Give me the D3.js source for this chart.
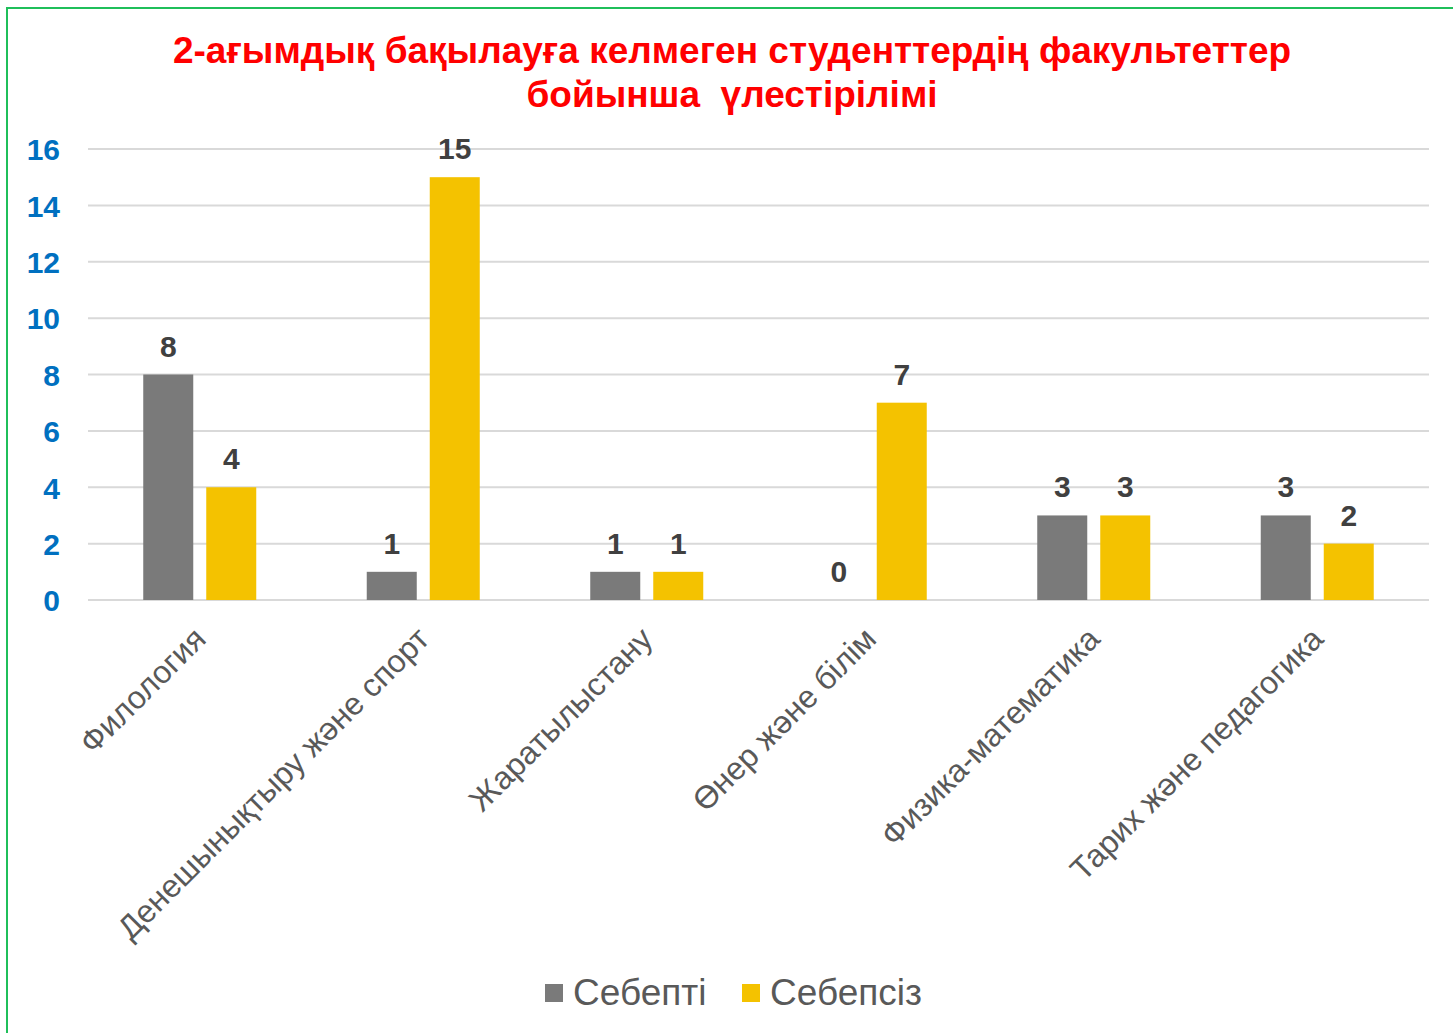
<!DOCTYPE html>
<html>
<head>
<meta charset="utf-8">
<script src="https://cdn.jsdelivr.net/npm/d3@7"></script>
<style>
  html, body { margin: 0; padding: 0; background: #fff; }
  svg { display: block; font-family: "Liberation Sans", Arial, sans-serif; }
</style>
</head>
<body>
<div id="chart"></div>
<script>
const categories = ["Филология", "Денешынықтыру және спорт", "Жаратылыстану", "Өнер және білім", "Физика-математика", "Тарих және педагогика"];
const seriesNames = ["Себепті", "Себепсіз"];
const sebepti = [8, 1, 1, 0, 3, 3];
const sebepsiz = [4, 15, 1, 7, 3, 2];
const yTicks = [0, 2, 4, 6, 8, 10, 12, 14, 16];
const titleLines = ["2-ағымдық бақылауға келмеген студенттердің факультеттер", "бойынша  үлестірілімі"];

const width = 1453, height = 1033;
const margin = { top: 149, right: 24, bottom: 433, left: 88 };
const innerWidth = width - margin.left - margin.right;
const innerHeight = height - margin.top - margin.bottom;

const colors = { "Себепті": "#7a7a7a", "Себепсіз": "#f4c200" };

const svg = d3.select("#chart").append("svg")
  .attr("width", width)
  .attr("height", height);

// green frame (runs off the right and bottom edges)
svg.append("path")
  .attr("d", `M${width},8 H7 V${height}`)
  .attr("fill", "none")
  .attr("stroke", "#1fbf5a")
  .attr("stroke-width", 2);

// title
svg.append("g").selectAll("text")
  .data(titleLines)
  .enter().append("text")
  .attr("x", 732)
  .attr("y", (d, i) => 63 + i * 44)
  .attr("text-anchor", "middle")
  .attr("fill", "#ff0000")
  .attr("font-weight", "bold")
  .attr("font-size", "37px")
  .style("white-space", "pre")
  .text(d => d);

const g = svg.append("g").attr("transform", `translate(${margin.left},${margin.top})`);

const x0 = d3.scaleBand().domain(categories).range([0, innerWidth]).padding(0);
const y = d3.scaleLinear().domain([0, 16]).range([innerHeight, 0]);

const barW = 50, barGap = 13;
const x1 = d => (d === 0 ? -(barW + barGap / 2) : barGap / 2);

// gridlines
g.append("g").selectAll("line")
  .data(yTicks)
  .enter().append("line")
  .attr("x1", 0).attr("x2", innerWidth)
  .attr("y1", d => y(d)).attr("y2", d => y(d))
  .attr("stroke", "#d9d9d9")
  .attr("stroke-width", 2);

// y axis labels
const yAxis = g.append("g")
  .call(d3.axisLeft(y).tickValues(yTicks).tickSize(0).tickPadding(28));
yAxis.select(".domain").remove();
yAxis.selectAll("text")
  .attr("fill", "#0070c0")
  .attr("font-weight", "bold")
  .attr("font-size", "30px")
  .attr("font-family", "Liberation Sans, Arial, sans-serif")
  .attr("dy", "0.36em");

const series = [sebepti, sebepsiz];
series.forEach((vals, si) => {
  const grp = g.append("g");
  grp.selectAll("rect")
    .data(vals)
    .enter().append("rect")
    .attr("x", (d, i) => x0(categories[i]) + x0.bandwidth() / 2 + x1(si))
    .attr("y", d => y(d))
    .attr("width", barW)
    .attr("height", d => y(0) - y(d))
    .attr("fill", colors[seriesNames[si]]);
  grp.selectAll("text")
    .data(vals)
    .enter().append("text")
    .attr("x", (d, i) => x0(categories[i]) + x0.bandwidth() / 2 + x1(si) + barW / 2)
    .attr("y", d => y(d) - 18)
    .attr("text-anchor", "middle")
    .attr("fill", "#404040")
    .attr("font-weight", "bold")
    .attr("font-size", "30px")
    .text(d => d);
});

// x labels
g.append("g").selectAll("text")
  .data(categories)
  .enter().append("text")
  .attr("transform", d => `translate(${x0(d) + x0.bandwidth() / 2},${innerHeight + 33}) rotate(-45)`)
  .attr("text-anchor", "end")
  .attr("fill", "#595959")
  .attr("font-size", "32px")
  .attr("dy", "0.35em")
  .text(d => d);

// legend
const legendX = [545, 742];
const legend = svg.append("g");
seriesNames.forEach((name, i) => {
  legend.append("rect")
    .attr("x", legendX[i]).attr("y", 984)
    .attr("width", 18).attr("height", 18)
    .attr("fill", colors[name]);
  legend.append("text")
    .attr("x", legendX[i] + 28).attr("y", 1005)
    .attr("fill", "#595959")
    .attr("font-size", "37px")
    .text(name);
});
</script>
</body>
</html>
